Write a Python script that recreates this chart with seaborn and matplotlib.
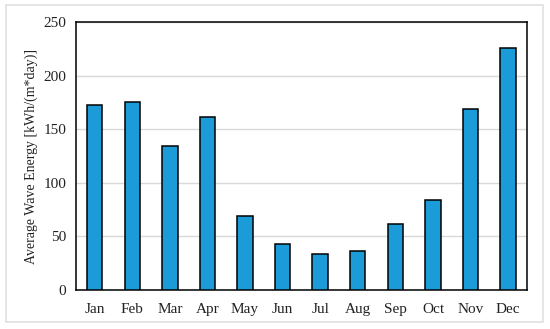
import matplotlib
matplotlib.use("Agg")
from matplotlib import pyplot as plt
from matplotlib.patches import Rectangle
import seaborn as sns
import pandas as pd

# Monthly average wave energy
months = ["Jan", "Feb", "Mar", "Apr", "May", "Jun",
          "Jul", "Aug", "Sep", "Oct", "Nov", "Dec"]
energy = [173, 175.5, 134.5, 161, 69.5, 43, 33.5, 36, 62, 84, 168.5, 225.5]

sns.set_theme(style="white")
plt.rcParams['font.family'] = ['Liberation Serif', 'DejaVu Serif']

df = pd.DataFrame({"month": months, "energy": energy})

fig = plt.figure(figsize=(5.5, 3.29), dpi=100)
ax = fig.add_axes([0.138, 0.1185, 0.82, 0.8145])

sns.barplot(data=df, x="month", y="energy", color="#1b9bd7", saturation=1,
            width=0.41, edgecolor="black", linewidth=1.1, ax=ax, zorder=3)

ax.set_ylim(0, 250)
ax.set_yticks([0, 50, 100, 150, 200, 250])
ax.yaxis.grid(True, color="#d9d9d9", linewidth=1, zorder=0)
ax.set_axisbelow(True)
ax.set_xlabel("")
ax.set_ylabel("Average Wave Energy [kWh/(m*day)]", fontsize=10, color="#222222")
ax.tick_params(axis="both", labelsize=11, colors="#222222", length=0)
ax.tick_params(axis="x", pad=9)
ax.tick_params(axis="y", pad=7)
for s in ax.spines.values():
    s.set_color("black")
    s.set_linewidth(1.1)

# light frame around the whole figure
fig.patches.append(Rectangle((0.011, 0.02), 0.976, 0.965, transform=fig.transFigure,
                             fill=False, edgecolor="#e0e0e0", linewidth=1.2))

fig.savefig("out.png", dpi=100)
